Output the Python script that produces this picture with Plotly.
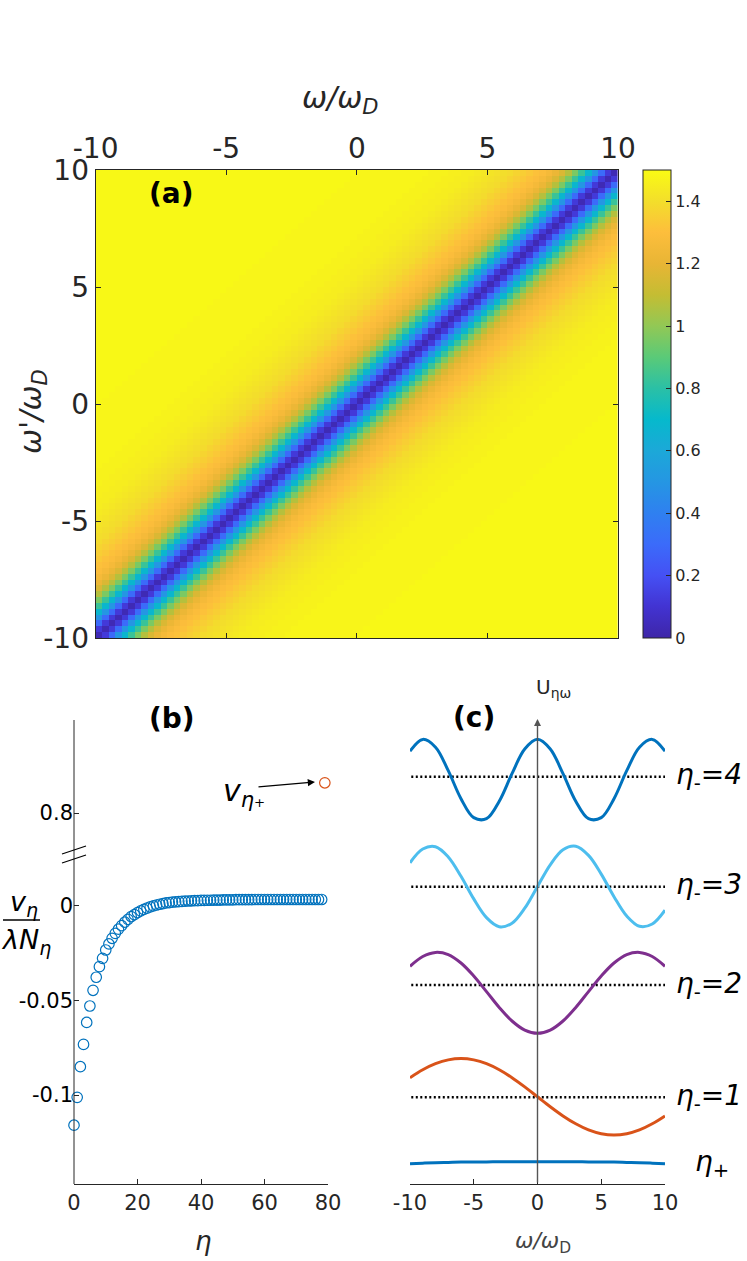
import numpy as np
import plotly.graph_objects as go

W, H = 747, 1261
def px(x): return x / W
def py(y): return 1 - y / H

# ---------------- data: panel (a) ----------------
omega_ticks = [-10, -5, 0, 5, 10]
omega_ticklabels = ["-10", "-5", "0", "5", "10"]
n_cells = 80
grid_centers = list(np.linspace(-9.875, 9.875, n_cells))
# value of the map as a function of the cell offset |i-j| from the diagonal
dist_profile = [0.03, 0.12, 0.30, 0.50, 0.68, 0.83, 0.96, 1.07, 1.16, 1.22,
                1.26, 1.29, 1.31, 1.33, 1.35, 1.37, 1.39, 1.40, 1.41, 1.42,
                1.43, 1.44, 1.45, 1.45, 1.46, 1.46, 1.47, 1.47, 1.47, 1.48,
                1.48, 1.48, 1.48, 1.48, 1.48, 1.48, 1.48, 1.48, 1.48, 1.48,
                1.49, 1.49, 1.49, 1.49, 1.49, 1.49, 1.49, 1.49, 1.49, 1.49,
                1.49, 1.49, 1.49, 1.49, 1.49, 1.49, 1.49, 1.49, 1.49, 1.49,
                1.49, 1.49, 1.49, 1.49, 1.49, 1.49, 1.49, 1.49, 1.49, 1.49,
                1.49, 1.49, 1.49, 1.49, 1.49, 1.49, 1.49, 1.49, 1.49, 1.49]
cbar_ticks = [0, 0.2, 0.4, 0.6, 0.8, 1.0, 1.2, 1.4]
cbar_ticklabels = ["0", "0.2", "0.4", "0.6", "0.8", "1", "1.2", "1.4"]

# ---------------- data: panel (b) ----------------
eta_minus = list(range(79))
v_minus = [-0.1159, -0.1012, -0.0850, -0.0732, -0.0616, -0.0529, -0.0446, -0.0377, -0.0321, -0.0277,
           -0.0233, -0.0201, -0.0171, -0.0145, -0.0123, -0.0104, -0.0086, -0.0071, -0.0056, -0.0046,
           -0.0035, -0.0026, -0.0018, -0.0012, -0.0005, 0.0000, 0.0005, 0.0009, 0.0012, 0.0016,
           0.0018, 0.0020, 0.0021, 0.0023, 0.0024, 0.0025, 0.0026, 0.0027, 0.0028, 0.0028,
           0.0029, 0.0029, 0.0030, 0.0030, 0.0031, 0.0031, 0.0031, 0.0032, 0.0032, 0.0032,
           0.0032, 0.0033, 0.0033, 0.0033, 0.0033, 0.0033, 0.0033, 0.0034, 0.0034, 0.0034,
           0.0034, 0.0034, 0.0034, 0.0034, 0.0034, 0.0034, 0.0034, 0.0034, 0.0034, 0.0034,
           0.0034, 0.0034, 0.0034, 0.0034, 0.0034, 0.0034, 0.0034, 0.0034, 0.0034]
eta_plus = [79]
v_plus = [0.816]
b_xticks = [0, 20, 40, 60, 80]
b_lower_ticks = [-0.1, -0.05, 0]
b_lower_labels = ["-0.1", "-0.05", "0"]
b_upper_ticks = [0.8]
b_upper_labels = ["0.8"]

# ---------------- data: panel (c) ----------------
c_x = list(range(-10, 11))
U_eta4 = [432.8, 444.6, 436.8, 413.3, 385.3, 366.4, 365.3, 382.8, 410.4, 435.0, 444.7,
          435.0, 410.4, 382.8, 365.3, 366.4, 385.3, 413.3, 436.8, 444.6, 432.8]
U_eta3 = [321.2, 335.0, 337.3, 327.1, 307.7, 285.1, 266.4, 257.3, 260.8, 275.8, 297.5,
          319.2, 334.2, 337.7, 328.6, 309.9, 287.3, 267.9, 257.7, 260.0, 273.8]
U_eta2 = [217.7, 227.5, 231.6, 229.4, 221.0, 208.0, 192.4, 176.5, 163.0, 153.9, 150.7,
          153.9, 163.0, 176.5, 192.4, 208.0, 221.0, 229.4, 231.6, 227.5, 217.7]
U_eta1 = [106.3, 114.2, 120.3, 124.1, 125.4, 124.1, 120.3, 114.2, 106.3, 97.1, 87.2,
          77.3, 68.1, 60.2, 54.1, 50.3, 49.0, 50.3, 54.1, 60.2, 68.1]
U_plus = [20.2, 20.8, 21.3, 21.6, 21.9, 22.0, 22.1, 22.2, 22.3, 22.3, 22.3,
          22.3, 22.3, 22.2, 22.1, 22.0, 21.9, 21.6, 21.3, 20.8, 20.2]
baseline_levels = [86.7, 199.0, 297.3, 407.3]
baseline_labels = ["1", "2", "3", "4"]
plus_level = 21.0
c_xticks = [-10, -5, 0, 5, 10]
c_xticklabels = ["-10", "-5", "0", "5", "10"]

parula = [[0.0, '#3E26A8'], [0.067, '#4233D2'], [0.133, '#4550F4'], [0.2, '#3B6BFA'],
          [0.267, '#2F80F0'], [0.333, '#2596E3'], [0.4, '#1CA8D8'], [0.467, '#06B9CC'],
          [0.533, '#2AC0A6'], [0.6, '#5ACA78'], [0.667, '#92C855'], [0.733, '#C4BD33'],
          [0.8, '#E8B535'], [0.867, '#FDBE3C'], [0.933, '#F3DE2B'], [1.0, '#F9FB14']]

z = [[dist_profile[abs(i - j)] for i in range(n_cells)] for j in range(n_cells)]

DARK = '#262626'
FONT = 'DejaVu Sans'

fig = go.Figure()

fig.add_trace(go.Heatmap(
    x=grid_centers, y=grid_centers, z=z, zmin=0, zmax=1.5, colorscale=parula,
    xaxis='x', yaxis='y', hoverinfo='skip',
    colorbar=dict(x=px(643), xanchor='left', xpad=0, ypad=0,
                  y=py(404), yanchor='middle',
                  thickness=28, thicknessmode='pixels', len=468, lenmode='pixels',
                  tickvals=cbar_ticks, ticktext=cbar_ticklabels, ticks='inside',
                  ticklen=5, tickcolor=DARK, outlinecolor=DARK, outlinewidth=1,
                  tickfont=dict(family=FONT, size=16, color=DARK))))

fig.add_trace(go.Scatter(x=eta_minus, y=v_minus, mode='markers', xaxis='x2', yaxis='y2',
                         marker=dict(symbol='circle-open', size=10.5, color='#0072BD',
                                     line=dict(width=1.2)), cliponaxis=False, showlegend=False))
fig.add_trace(go.Scatter(x=eta_plus, y=v_plus, mode='markers', xaxis='x2', yaxis='y3',
                         marker=dict(symbol='circle-open', size=10.5, color='#D95319',
                                     line=dict(width=1.2)), cliponaxis=False, showlegend=False))

# panel (c): dotted baselines
for lev in baseline_levels:
    fig.add_trace(go.Scatter(x=[-9.9, 10], y=[lev, lev], mode='lines', xaxis='x3', yaxis='y4',
                             line=dict(color='black', width=2.5, dash='2px,2.5px'),
                             showlegend=False, hoverinfo='skip'))
curves = [(U_eta4, '#0072BD'), (U_eta3, '#4DBEEE'), (U_eta2, '#7E2F8E'),
          (U_eta1, '#D95319'), (U_plus, '#0072BD')]
for vals, col in curves:
    fig.add_trace(go.Scatter(x=c_x, y=vals, mode='lines', xaxis='x3', yaxis='y4',
                             line=dict(color=col, width=3, shape='spline'),
                             showlegend=False, hoverinfo='skip', cliponaxis=False))

axstyle = dict(showgrid=False, zeroline=False, showline=True, linecolor=DARK, linewidth=1,
               ticks='inside', tickcolor=DARK, ticklen=5, automargin=False)

annotations = []
def ann(text, x, y, size, color='black', **kw):
    d = dict(text=text, x=px(x), y=py(y), xref='paper', yref='paper', showarrow=False,
             font=dict(family=FONT, size=size, color=color), xanchor='center', yanchor='middle')
    d.update(kw)
    annotations.append(d)

ann('<b>(a)</b>', 171, 193, 28)
ann('<b>(b)</b>', 172, 718, 28)
ann('<b>(c)</b>', 474, 717, 28)
ann('<i>ω/ω</i><sub><i>D</i></sub>', 340, 100, 30, DARK)
ann("<i>ω'/ω</i><sub><i>D</i></sub>", 33, 412, 30, DARK, textangle=-90)
ann('<i>v</i><sub><i>η</i></sub>', 24, 903, 27, 'black')
ann('<i>λN</i><sub><i>η</i></sub>', 26, 941, 27, 'black')
ann('<i>η</i>', 203, 1241, 26, DARK)
ann('<i>v</i><sub><i>η</i>₊</sub>', 244, 792, 30, 'black')
ann('<i>ω/ω</i><sub>D</sub>', 543, 1242, 22, '#444444')
ann('U<sub>ηω</sub>', 553, 688, 20, DARK)

for lev, lab in zip(baseline_levels, baseline_labels):
    annotations.append(dict(text='<i>η</i><sub>-</sub><i>=' + lab + '</i>', x=px(674), y=lev,
                            xref='paper', yref='y4', showarrow=False, xanchor='left',
                            yanchor='middle', font=dict(family=FONT, size=28, color='black')))
annotations.append(dict(text='<i>η</i><sub>+</sub>', x=px(693), y=plus_level,
                        xref='paper', yref='y4', showarrow=False, xanchor='left',
                        yanchor='middle', font=dict(family=FONT, size=28, color='black')))

# arrow to v_eta+
annotations.append(dict(text='', x=px(315), y=py(782), xref='paper', yref='paper',
                        ax=-58, ay=5, axref='pixel', ayref='pixel', showarrow=True,
                        arrowhead=2, arrowsize=1.2, arrowwidth=1.2, arrowcolor='black'))
# U axis arrow
annotations.append(dict(text='', x=0, y=465, xref='x3', yref='y4', ax=0, ay=0,
                        axref='x3', ayref='y4', showarrow=True, arrowhead=2, arrowsize=1,
                        arrowwidth=1.4, arrowcolor='#555555'))

shapes = [
    dict(type='line', xref='paper', yref='paper', x0=px(74), x1=px(74), y0=py(720), y1=py(1184),
         line=dict(color=DARK, width=1)),
    dict(type='line', xref='paper', yref='paper', x0=px(62), x1=px(86), y0=py(854), y1=py(846),
         line=dict(color='black', width=1.3)),
    dict(type='line', xref='paper', yref='paper', x0=px(62), x1=px(86), y0=py(863), y1=py(855),
         line=dict(color='black', width=1.3)),
    dict(type='line', xref='paper', yref='paper', x0=px(3), x1=px(40), y0=py(920), y1=py(920),
         line=dict(color='black', width=1.3)),
]

fig.update_layout(
    width=W, height=H, autosize=False, margin=dict(l=0, r=0, t=0, b=0, autoexpand=False),
    paper_bgcolor='white', plot_bgcolor='rgba(0,0,0,0)', showlegend=False,
    xaxis=dict(domain=[px(95.6), px(618)], anchor='y', side='top', range=[-10, 10],
               tickvals=omega_ticks, ticktext=omega_ticklabels, mirror='ticks',
               tickfont=dict(family=FONT, size=28, color=DARK), **axstyle),
    yaxis=dict(domain=[py(638), py(170)], anchor='x', range=[-10, 10],
               tickvals=omega_ticks, ticktext=omega_ticklabels, mirror='ticks',
               tickfont=dict(family=FONT, size=28, color=DARK), **axstyle),
    xaxis2=dict(domain=[px(74), px(328)], anchor='y2', range=[0, 80], tickvals=b_xticks,
                tickfont=dict(family=FONT, size=21, color=DARK), **axstyle),
    yaxis2=dict(domain=[py(1184), py(870)], anchor='x2', range=[-0.147, 0.019],
                tickvals=b_lower_ticks, ticktext=b_lower_labels,
                tickfont=dict(family=FONT, size=21, color='black'),
                showgrid=False, zeroline=False, showline=False, ticks='inside',
                tickcolor=DARK, ticklen=5, automargin=False),
    yaxis3=dict(domain=[py(845), py(720)], anchor='x2', range=[0.7831, 0.8492],
                tickvals=b_upper_ticks, ticktext=b_upper_labels,
                tickfont=dict(family=FONT, size=21, color='black'),
                showgrid=False, zeroline=False, showline=False, ticks='inside',
                tickcolor=DARK, ticklen=5, automargin=False),
    xaxis3=dict(domain=[px(410), px(665)], anchor='y4', range=[-10, 10], tickvals=c_xticks,
                ticktext=c_xticklabels,
                tickfont=dict(family=FONT, size=21, color=DARK), **axstyle),
    yaxis4=dict(domain=[py(1184), py(720)], anchor='x3', range=[0, 464], visible=False,
                automargin=False),
    annotations=annotations, shapes=shapes,
)

fig.write_html('out.html', config={'displayModeBar': False},
               post_script="document.body.style.margin='0';"
               "document.body.style.overflow='hidden';")
